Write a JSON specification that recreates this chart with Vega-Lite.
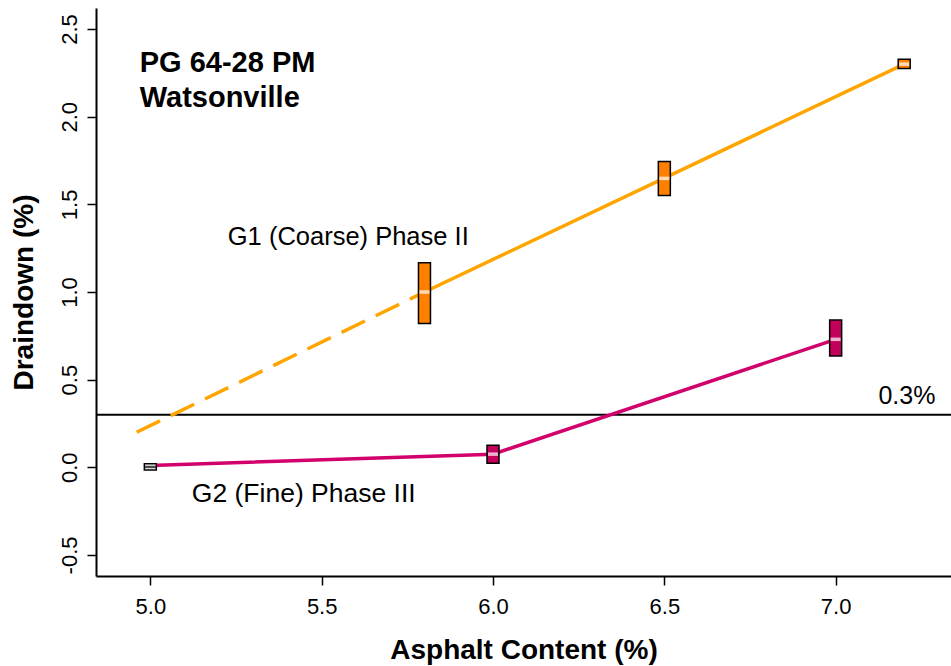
{
  "$schema": "https://vega.github.io/schema/vega-lite/v6.json",
  "autosize": "none",
  "width": 855,
  "height": 568,
  "padding": {"left": 96, "top": 8, "right": 0, "bottom": 90},
  "background": "white",
  "config": {
    "view": {"stroke": null},
    "font": "Liberation Sans",
    "axis": {
      "grid": false,
      "domainColor": "black",
      "domainWidth": 2,
      "tickColor": "black",
      "tickWidth": 1.5,
      "tickSize": 9,
      "labelColor": "black",
      "labelFont": "Liberation Sans",
      "labelFontSize": 22,
      "titleColor": "black",
      "titleFont": "Liberation Sans",
      "titleFontSize": 28,
      "titleFontWeight": "bold"
    }
  },
  "datasets": {
    "lines": [
      {"series": "G1 dashed", "x": 4.96, "y": 0.2},
      {"series": "G1 dashed", "x": 5.8, "y": 1.0},
      {"series": "G1 solid", "x": 5.8, "y": 1.0},
      {"series": "G1 solid", "x": 6.5, "y": 1.65},
      {"series": "G1 solid", "x": 7.2, "y": 2.3},
      {"series": "G2", "x": 5.0, "y": 0.01},
      {"series": "G2", "x": 6.0, "y": 0.075},
      {"series": "G2", "x": 7.0, "y": 0.73}
    ],
    "boxes": [
      {"group": "G1", "x": 5.8, "lo": 0.82, "hi": 1.167, "med": 1.0},
      {"group": "G1", "x": 6.5, "lo": 1.55, "hi": 1.745, "med": 1.648},
      {"group": "G1", "x": 7.2, "lo": 2.275, "hi": 2.328, "med": 2.3},
      {"group": "G2", "x": 6.0, "lo": 0.023, "hi": 0.126, "med": 0.075},
      {"group": "G2", "x": 7.0, "lo": 0.635, "hi": 0.84, "med": 0.73}
    ],
    "labels": [
      {"label": "PG 64-28 PM", "x": 4.969, "y": 2.305, "kind": "bold"},
      {"label": "Watsonville", "x": 4.969, "y": 2.105, "kind": "bold"},
      {"label": "G1 (Coarse) Phase II", "x": 5.226, "y": 1.316, "kind": "g1"},
      {"label": "G2 (Fine) Phase III", "x": 5.121, "y": -0.154, "kind": "g2"}
    ]
  },
  "layer": [
    {
      "data": {"values": [{"y": 0.3}]},
      "mark": {"type": "rule", "color": "black", "strokeWidth": 2},
      "encoding": {
        "y": {"field": "y", "type": "quantitative",
          "scale": {"domain": [-0.62, 2.62], "nice": false, "zero": false},
          "axis": {"title": "Draindown (%)", "values": [-0.5, 0, 0.5, 1, 1.5, 2, 2.5],
            "labelExpr": "replace(format(datum.value, '.1f'), '\u2212', '-')",
            "labelAngle": 270, "labelAlign": "center", "labelBaseline": "bottom", "labelPadding": 6, "titlePadding": 20}}
      }
    },
    {
      "data": {"values": [{"x": 7.208, "y": 0.406, "label": "0.3%"}]},
      "mark": {"type": "text", "fontSize": 25, "align": "center", "baseline": "middle", "color": "black"},
      "encoding": {
        "x": {"field": "x", "type": "quantitative"},
        "y": {"field": "y", "type": "quantitative"},
        "text": {"field": "label"}
      }
    },
    {
      "data": {"name": "lines"},
      "transform": [{"filter": "datum.series === 'G1 dashed'"}],
      "mark": {"type": "line", "color": "#FFA500", "strokeWidth": 3.5, "strokeDash": [26, 12]},
      "encoding": {
        "x": {"field": "x", "type": "quantitative",
          "scale": {"domain": [4.856, 7.322], "nice": false, "zero": false},
          "axis": {"title": "Asphalt Content (%)", "values": [5, 5.5, 6, 6.5, 7], "format": ".1f", "labelPadding": 11, "titlePadding": 19}},
        "y": {"field": "y", "type": "quantitative"}
      }
    },
    {
      "data": {"name": "lines"},
      "transform": [{"filter": "datum.series === 'G1 solid'"}],
      "mark": {"type": "line", "color": "#FFA500", "strokeWidth": 3.5},
      "encoding": {
        "x": {"field": "x", "type": "quantitative"},
        "y": {"field": "y", "type": "quantitative"}
      }
    },
    {
      "data": {"name": "lines"},
      "transform": [{"filter": "datum.series === 'G2'"}],
      "mark": {"type": "line", "color": "#D1006B", "strokeWidth": 3.5},
      "encoding": {
        "x": {"field": "x", "type": "quantitative"},
        "y": {"field": "y", "type": "quantitative"}
      }
    },
    {
      "data": {"values": [{"x": 5.0, "lo": -0.016, "hi": 0.02, "med": 0.002}]},
      "mark": {"type": "bar", "width": 12, "fill": "white", "stroke": "black", "strokeWidth": 1.5},
      "encoding": {
        "x": {"field": "x", "type": "quantitative"},
        "y": {"field": "lo", "type": "quantitative"},
        "y2": {"field": "hi"}
      }
    },
    {
      "data": {"values": [{"x": 5.0, "med": 0.002}]},
      "mark": {"type": "tick", "orient": "horizontal", "size": 12, "thickness": 2.5, "color": "black"},
      "encoding": {
        "x": {"field": "x", "type": "quantitative"},
        "y": {"field": "med", "type": "quantitative"}
      }
    },
    {
      "data": {"name": "boxes"},
      "mark": {"type": "bar", "width": 12, "stroke": "black", "strokeWidth": 1.5},
      "encoding": {
        "x": {"field": "x", "type": "quantitative"},
        "y": {"field": "lo", "type": "quantitative"},
        "y2": {"field": "hi"},
        "fill": {"field": "group", "type": "nominal",
          "scale": {"domain": ["G1", "G2"], "range": ["#FF8000", "#C2005C"]}, "legend": null}
      }
    },
    {
      "data": {"name": "boxes"},
      "mark": {"type": "tick", "orient": "horizontal", "size": 10, "thickness": 3.5, "color": "white"},
      "encoding": {
        "x": {"field": "x", "type": "quantitative"},
        "y": {"field": "med", "type": "quantitative"}
      }
    },
    {
      "data": {"name": "labels"},
      "transform": [{"filter": "datum.kind === 'bold'"}],
      "mark": {"type": "text", "fontSize": 29, "fontWeight": "bold", "align": "left", "baseline": "middle", "color": "black"},
      "encoding": {
        "x": {"field": "x", "type": "quantitative"},
        "y": {"field": "y", "type": "quantitative"},
        "text": {"field": "label"}
      }
    },
    {
      "data": {"name": "labels"},
      "transform": [{"filter": "datum.kind === 'g1'"}],
      "mark": {"type": "text", "fontSize": 25.5, "align": "left", "baseline": "middle", "color": "black"},
      "encoding": {
        "x": {"field": "x", "type": "quantitative"},
        "y": {"field": "y", "type": "quantitative"},
        "text": {"field": "label"}
      }
    },
    {
      "data": {"name": "labels"},
      "transform": [{"filter": "datum.kind === 'g2'"}],
      "mark": {"type": "text", "fontSize": 26.5, "align": "left", "baseline": "middle", "color": "black"},
      "encoding": {
        "x": {"field": "x", "type": "quantitative"},
        "y": {"field": "y", "type": "quantitative"},
        "text": {"field": "label"}
      }
    }
  ]
}
